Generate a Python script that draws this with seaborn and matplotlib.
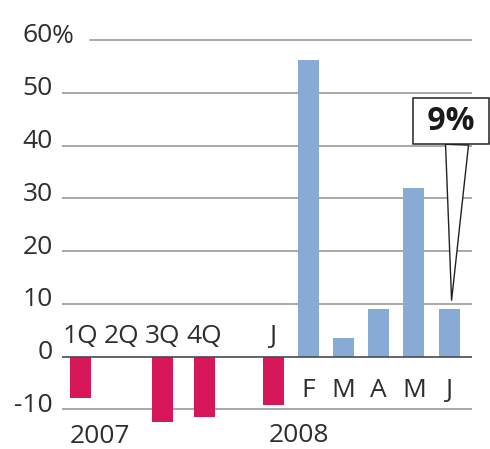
import matplotlib
matplotlib.use("Agg")
import matplotlib.pyplot as plt
import matplotlib.transforms as mtransforms
import numpy as np
import pandas as pd
import seaborn as sns

# data
labels = ["1Q", "2Q", "3Q", "4Q", "J", "F", "M", "A", "M", "J"]
slot = [0, 1.17, 2.34, 3.51, 5.47, 6.47, 7.47, 8.47, 9.47, 10.47]
values = [-7.9, 0, -12.3, -11.5, -9.1, 56.2, 3.5, 9.0, 31.9, 9.0]
yticks = [-10, 0, 10, 20, 30, 40, 50, 60]
ytick_labels = ["-10", "0", "10", "20", "30", "40", "50", "60"]

RED = "#d8175a"
BLUE = "#88abd5"
TXT = "#2e2e2e"

df = pd.DataFrame({"slot": slot, "value": values, "label": labels})
df["dir"] = np.where(df["value"] <= 0, "down", "up")

sns.set_theme(style="white")
plt.rcParams["font.family"] = ["Open Sans", "DejaVu Sans"]

fig = plt.figure(figsize=(4.9, 4.49), dpi=100)
ax = fig.add_axes([62 / 490, 1 - 430.6 / 449, 410 / 490, (430.6 - 34.7) / 449])

sns.barplot(data=df, x="slot", y="value", hue="dir",
            palette={"down": RED, "up": BLUE}, saturation=1, native_scale=True,
            width=0.6, linewidth=0, errorbar=None, legend=False, ax=ax)

ax.set_xlim(-0.526, 11.12)
ax.set_ylim(-14, 61)
for s in ax.spines.values():
    s.set_visible(False)
ax.set_xlabel("")
ax.set_ylabel("")
ax.set_xticks([])

# grid lines
for t in yticks:
    if t == 0:
        ax.axhline(t, color="#4a4a4a", lw=1.2, zorder=3)
    elif t == 60:
        ax.axhline(t, xmin=28 / 410, color="#a3a3a3", lw=1.3, zorder=0.5)
    else:
        ax.axhline(t, color="#a3a3a3", lw=1.3, zorder=0.5)

# y labels, sitting a bit above their lines
ax.set_yticks(yticks, ytick_labels)
ax.tick_params(axis="y", length=0, pad=6.5, labelsize=19, labelcolor=TXT)
shift = mtransforms.ScaledTranslation(0, 0.07, fig.dpi_scale_trans)
for lab in ax.get_yticklabels():
    lab.set_transform(lab.get_transform() + shift)
ax.annotate("%", xy=(0, 60), xycoords=("axes fraction", "data"),
            xytext=(-7.6, 5.0), textcoords="offset points",
            ha="left", va="center_baseline", fontsize=19, color=TXT)

# category labels: above zero for falling bars, below for rising ones
for _, r in df.iterrows():
    y = 2.6 if r["value"] <= 0 else -7.6
    ax.text(r["slot"], y, r["label"], ha="center", va="baseline",
            fontsize=19, color=TXT)

ax.text(0.55, -16.4, "2007", ha="center", va="baseline", fontsize=19, color=TXT)
ax.text(6.21, -16.1, "2008", ha="center", va="baseline", fontsize=19, color=TXT)

# callout for the last bar
ax.annotate(" 9% ", xy=(slot[-1] + 0.07, values[-1] + 1.7), xytext=(slot[-1] + 0.05, 44.6),
            ha="center", va="center", fontsize=23, fontweight="bold",
            color="#1a1a1a", annotation_clip=False,
            bbox=dict(boxstyle="square,pad=0.2", fc="white", ec="#222222", lw=1.1),
            arrowprops=dict(arrowstyle="wedge,tail_width=0.72,shrink_factor=0.5",
                            fc="white", ec="#222222", lw=1.0,
                            relpos=(0.6, 0.0), shrinkA=0, shrinkB=0))

fig.savefig("out.png", dpi=100)
